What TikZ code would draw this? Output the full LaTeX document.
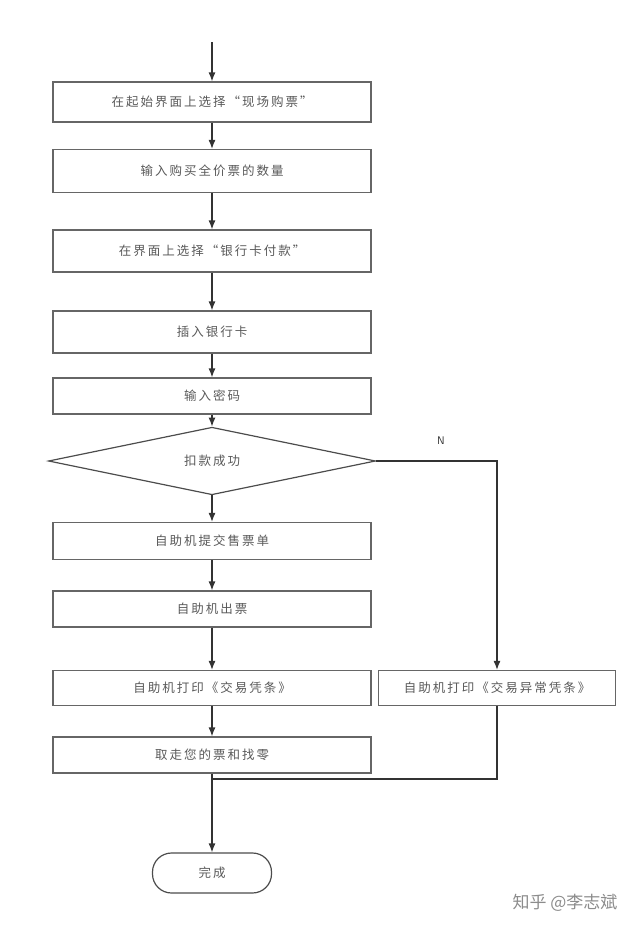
\documentclass[tikz,border=0pt]{standalone}
\usepackage{fontspec}
\newfontfamily\cjk[LetterSpace=16]{Noto Sans CJK SC}
\newfontfamily\cjkmark{Noto Sans CJK SC}
\setmainfont{Liberation Sans}
\usetikzlibrary{shapes.geometric,arrows.meta}
\begin{document}
\begin{tikzpicture}[
x=1pt, y=-1pt,
every node/.style={
font=\cjk\fontsize{12.5}{14}\selectfont,
text=black!65,
align=center
},
stepbox/.style={
draw=black!60,
line width=1.2pt,
minimum width=318pt,
minimum height=40pt,
inner sep=0pt
},
flow/.style={line width=1.2pt, draw=black!80, -{Latex[length=9pt,width=7pt]}}
]
\useasboundingbox (0,0) rectangle (640,929);

\coordinate (S) at (212,42);

\node[stepbox] (A) at (212,102) {在起始界面上选择“现场购票”};
\node[stepbox, minimum height=43pt] (B) at (212,171) {输入购买全价票的数量};
\node[stepbox, minimum height=42pt] (C) at (212,251) {在界面上选择“银行卡付款”};
\node[stepbox, minimum height=42pt] (D) at (212,332) {插入银行卡};
\node[stepbox, minimum height=36pt] (E) at (212,396) {输入密码};

\node[draw=black!70, line width=1.2pt, diamond, minimum width=327pt,
minimum height=54pt, inner sep=0pt] (Q) at (212,461) {扣款成功};

\node[stepbox, minimum height=37pt] (F) at (212,541) {自助机提交售票单};
\node[stepbox, minimum height=36pt] (G) at (212,609) {自助机出票};
\node[stepbox, minimum height=35pt] (H) at (212,688) {自助机打印《交易凭条》};
\node[stepbox, minimum height=36pt] (K) at (212,755) {取走您的票和找零};

\node[stepbox, minimum width=237pt, minimum height=35pt] (X) at (497,688) {自助机打印《交易异常凭条》};

\node[draw=black!70, line width=1.2pt, rounded corners=19pt,
minimum width=119pt, minimum height=40pt] (Z) at (212,873) {完成};

\node[font=\sffamily\fontsize{11}{13}\selectfont, text=black!80] (N) at (441,441) {N};

\coordinate (J) at (212,779);

\draw[flow] (S) -- (A);
\draw[flow] (A) -- (B);
\draw[flow] (B) -- (C);
\draw[flow] (C) -- (D);
\draw[flow] (D) -- (E);
\draw[flow] (E) -- (Q);
\draw[flow] (Q) -- (F);
\draw[flow] (F) -- (G);
\draw[flow] (G) -- (H);
\draw[flow] (H) -- (K);
\draw[flow] (K) -- (Z);

\draw[flow] (Q.east) -| (X.north);
\draw[flow, -] (X.south) |- (J);

\node[font=\cjkmark\fontsize{17}{19}\selectfont, text=black!45] (W) at (565,903) {知乎 @李志斌};

\end{tikzpicture}
\end{document}
